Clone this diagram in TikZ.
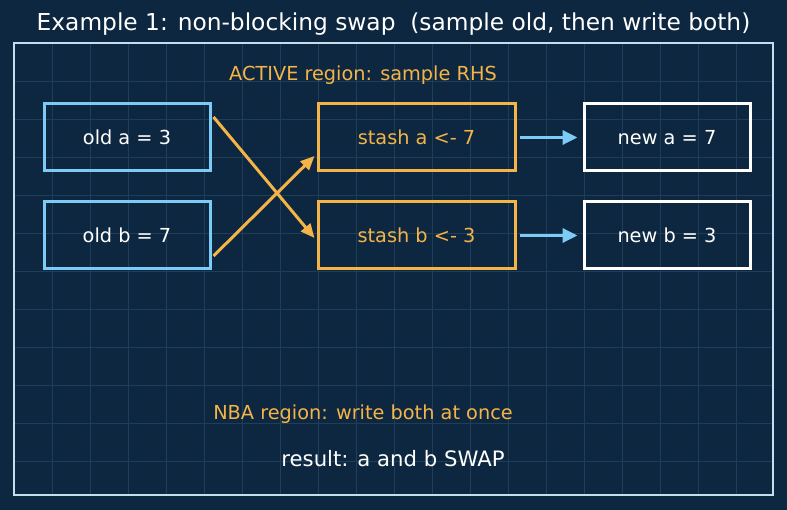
\documentclass[tikz,border=0pt]{standalone}
\usepackage{fontspec}
\setmainfont{DejaVu Sans}
\usetikzlibrary{arrows.meta}
\definecolor{bgc}{HTML}{0E2740}
\definecolor{gridc}{HTML}{1E3E5A}
\definecolor{framec}{HTML}{C6DDEE}
\definecolor{bluec}{HTML}{7CCBF7}
\definecolor{orangec}{HTML}{F4B447}
\tikzset{
  box/.style={draw, line width=3pt, minimum width=166pt, minimum height=67pt, inner sep=0pt, font=\fontsize{19.3}{23}\selectfont},
  oldbox/.style={box, draw=bluec, text=white},
  stashbox/.style={box, draw=orangec, text=orangec, minimum width=197pt},
  newbox/.style={box, draw=white, text=white},
  cross/.style={draw=orangec, line width=3pt, -{Triangle[length=14pt,width=12pt]}},
  flow/.style={draw=bluec, line width=3.4pt, -{Triangle[length=15pt,width=14pt]}},
  lbl/.style={font=\fontsize{19.3}{23}\selectfont, inner sep=0pt}
}
\begin{document}
\begin{tikzpicture}[x=1pt,y=-1pt]
\fill[bgc] (0,0) rectangle (787,510);
\useasboundingbox (0,0) rectangle (787,510);
\foreach \i in {1,...,19} \draw[gridc, line width=0.7pt] (14+38*\i,43) -- (14+38*\i,495);
\foreach \j in {1,...,11} \draw[gridc, line width=0.7pt] (14,43+38*\j) -- (773,43+38*\j);
\draw[framec, line width=1.8pt] (14,43) rectangle (773,495);
\node[font=\fontsize{23.3}{28}\selectfont, text=white, inner sep=0pt] (title) at (393.5,24) {Example 1: non-blocking swap\ \ (sample old, then write both)};
\node[lbl, text=orangec] (active) at (363,75) {ACTIVE region: sample RHS};
\node[oldbox] (olda) at (127,137.5) {old a = 3};
\node[oldbox] (oldb) at (127,235.5) {old b = 7};
\node[stashbox] (stasha) at (416.5,137.5) {stash a <- 7};
\node[stashbox] (stashb) at (416.5,235.5) {stash b <- 3};
\node[newbox] (newa) at (667,137.5) {new a = 7};
\node[newbox] (newb) at (667,235.5) {new b = 3};
\draw[cross] ([xshift=2pt,yshift=20.5pt]olda.east) -- ([xshift=-2pt,yshift=-2.5pt]stashb.west);
\draw[cross] ([xshift=2pt,yshift=-20.5pt]oldb.east) -- ([xshift=-2pt,yshift=-18.5pt]stasha.west);
\draw[flow] ([xshift=3pt]stasha.east) -- ([xshift=-5pt]newa.west);
\draw[flow] ([xshift=3pt]stashb.east) -- ([xshift=-5pt]newb.west);
\node[lbl, text=orangec] (nba) at (363,414) {NBA region: write both at once};
\node[font=\fontsize{21.2}{25}\selectfont, text=white, inner sep=0pt] (result) at (393,459) {result: a and b SWAP};
\end{tikzpicture}
\end{document}
